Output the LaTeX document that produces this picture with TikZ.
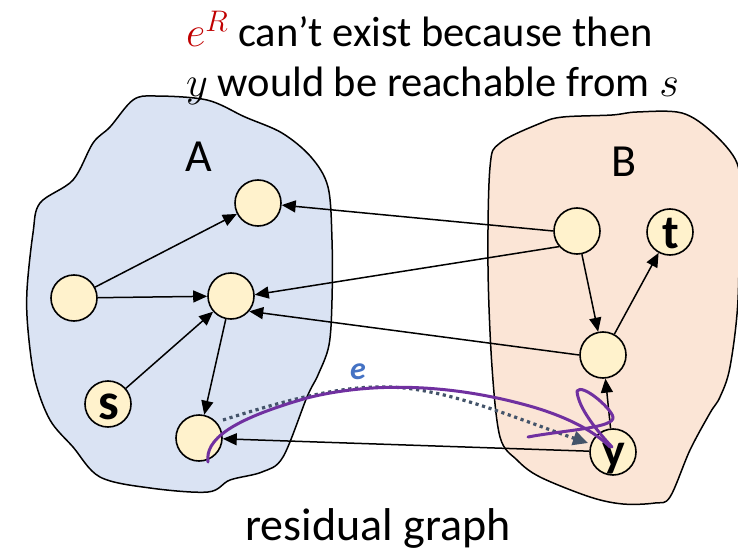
\RequirePackage{fix-cm}
\documentclass[tikz,border=0pt]{standalone}
\usepackage{fontspec}
\setmainfont{Carlito}
\usetikzlibrary{arrows.meta}
\definecolor{blobA}{HTML}{DAE3F3}
\definecolor{blobB}{HTML}{FBE5D6}
\definecolor{nodefill}{HTML}{FFF2CC}
\definecolor{purp}{HTML}{7030A0}
\definecolor{slate}{HTML}{44546A}
\definecolor{eblue}{HTML}{4472C4}
\definecolor{ered}{HTML}{C00000}
\begin{document}
\begin{tikzpicture}[x=1pt,y=-1pt,
  vtx/.style={circle, draw=black, line width=1.6pt, fill=nodefill, minimum size=46pt, inner sep=0pt},
  lbl/.style={font=\fontsize{48}{48}\selectfont\bfseries, inner sep=0pt},
  arr/.style={-{Triangle[length=14pt,width=12pt]}, line width=1.5pt},
  blob/.style={draw=black, line width=1.5pt},
  ttl/.style={font=\fontsize{42.5}{48}\selectfont, anchor=base west, inner sep=0pt},
  setlbl/.style={font=\fontsize{46}{46}\selectfont, inner sep=0pt},
  scribble/.style={draw=purp, line width=3pt, line cap=round, line join=round},
  dotarr/.style={draw=slate, line width=3.2pt, dash pattern=on 3.2pt off 3.6pt, -{Triangle[length=15pt,width=14pt]}},
  elbl/.style={text=eblue, font=\fontsize{32}{32}\selectfont\bfseries\itshape, inner sep=0pt}]
\useasboundingbox (0,0) rectangle (738,556);

% blobs
\path[blob, fill=blobA] plot[smooth cycle, tension=0.55] coordinates {
 (133,100) (155,96) (207,100) (245,117) (282,133) (311,157) (328,187)
 (332,240) (332,300) (329,345) (318,375) (307,397) (283,457) (262,472)
 (230,480) (208,492) (150,488) (100,477) (73,447) (50,420) (35,380)
 (28,330) (27,290) (33,233) (40,203) (73,180) (93,143) (110,127)};
\path[blob, fill=blobB] plot[smooth cycle, tension=0.55] coordinates {
 (500,143) (541,123) (563,117) (612,115) (637,112) (682,113) (713,133)
 (737,163) (739,200) (738,300) (730,367) (720,397) (710,413) (690,450)
 (670,497) (655,503) (623,504) (590,497) (540,477) (517,460) (500,437)
 (492,367) (488,267) (490,167)};

% titles
\node[ttl] (title1) at (186,47) {\textcolor{ered}{$e^R$} can’t exist because then};
\node[ttl] (title2) at (186,97) {$y$ would be reachable from $s$};
\node[setlbl] (labA) at (199,157) {A};
\node[setlbl] (labB) at (624,162) {B};
\node[font=\fontsize{46}{46}\selectfont, anchor=base, inner sep=0pt] (caption) at (378,540) {residual graph};

% vertices
\node[vtx] (Atop) at (258,203) {};
\node[vtx] (Aleft) at (74,298) {};
\node[vtx] (Amid) at (231,296) {};
\node[vtx] (s) at (108,404) {};
\node[vtx] (Abot) at (199,438) {};
\node[vtx] (B1) at (577,231) {};
\node[vtx] (t) at (670,232) {};
\node[vtx] (Bmid) at (603,355) {};
\node[vtx] (y) at (613,452) {};
\node[lbl, font=\fontsize{52}{52}\selectfont\bfseries] (slab) at (109,407) {s};
\node[lbl] (tlab) at (671,234) {t};
\node[lbl] (ylab) at (614,459) {y};

% edges
\draw[arr] (Aleft) -- (Atop);
\draw[arr] (Aleft) -- (Amid);
\draw[arr] (s) -- (Amid);
\draw[arr] (Amid) -- (Abot);
\draw[arr] (B1.west) -- (Atop.-5);
\draw[arr] (B1.221) -- (Amid.3);
\draw[arr] (Bmid.west) -- (Amid.-40);
\draw[arr] (y) -- (Abot);
\draw[arr] (B1) -- (Bmid);
\draw[arr] (Bmid) -- (t);
\draw[arr] (y) -- (Bmid);

% dotted edge e
\coordinate (d0) at (223,420);
\coordinate (d1) at (588,443);
\draw[dotarr] (d0) .. controls (280,402) and (340,385) .. (390,387) .. controls (450,389) and (520,420) .. (d1);
\node[elbl] (elab) at (358,372) {e};

% purple hand-drawn curve and scribble
\coordinate (p0) at (208,462);
\coordinate (p1) at (610,447);
\path[scribble] (p0) .. controls (205,440) and (230,420) .. (307,398) .. controls (370,382) and (450,383) .. (533,407) .. controls (570,418) and (595,432) .. (p1);
\coordinate (q0) at (528,437);
\coordinate (q1) at (612,447);
\path[scribble] (q0) .. controls (565,430) and (615,428) .. (613,417) .. controls (611,408) and (582,383) .. (577,391) .. controls (578,408) and (598,432) .. (q1);
\end{tikzpicture}
\end{document}
